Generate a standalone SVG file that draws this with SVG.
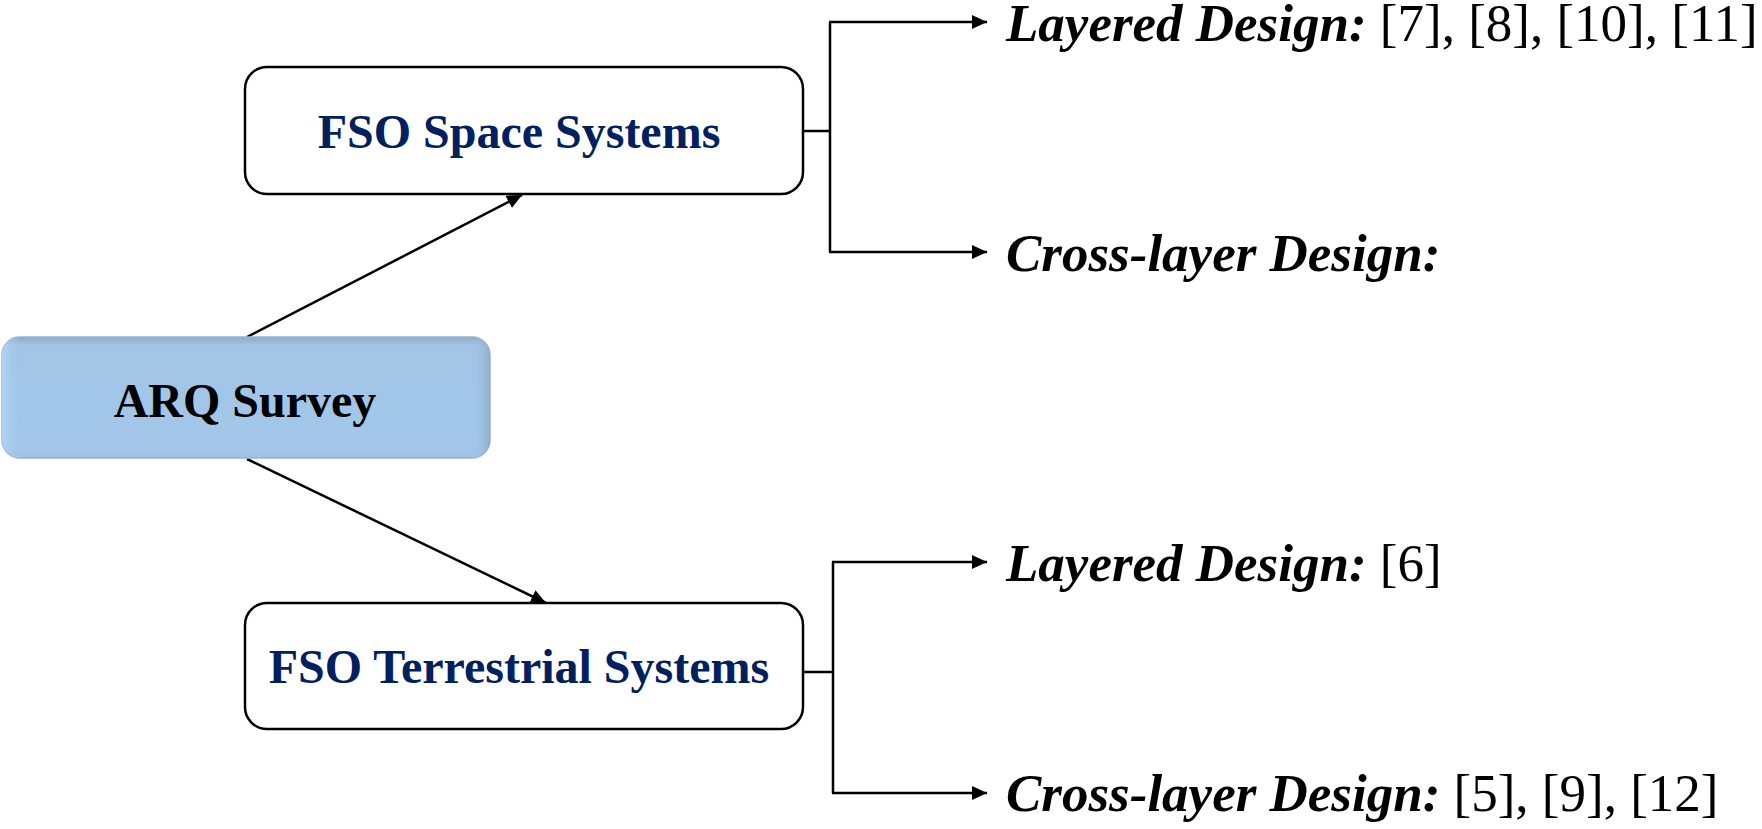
<svg xmlns="http://www.w3.org/2000/svg" width="1762" height="829" viewBox="0 0 1762 829">
  <style>
    .box { fill: #ffffff; stroke: #000000; stroke-width: 2.5; }
    .boxtxt { font-family: "Liberation Serif", "Times New Roman", serif; font-weight: bold; font-size: 48px; fill: #002060; text-anchor: middle; }
    .roottxt { font-family: "Liberation Serif", "Times New Roman", serif; font-weight: bold; font-size: 48px; fill: #000000; text-anchor: middle; }
    .leaf { font-family: "Liberation Serif", "Times New Roman", serif; font-size: 53px; fill: #000000; }
    .leaf .lbl { font-weight: bold; font-style: italic; }
    .wire { fill: none; stroke: #000000; stroke-width: 2.5; }
  </style>
  <defs>
    <marker id="arrow" markerUnits="userSpaceOnUse" markerWidth="16" markerHeight="15" refX="15" refY="7" orient="auto">
      <path d="M0,0 L15,7 L0,14 Z" fill="#000000"/>
    </marker>
    <linearGradient id="rootFill" x1="0" y1="0" x2="0" y2="1">
      <stop offset="0" stop-color="#8ea8c2"/>
      <stop offset="0.07" stop-color="#a2c5e6"/>
      <stop offset="0.9" stop-color="#a3c7e9"/>
      <stop offset="1" stop-color="#9fc3e6"/>
    </linearGradient>
    <linearGradient id="rootEdge" x1="0" y1="0" x2="1" y2="0">
      <stop offset="0" stop-color="#b3d6f6" stop-opacity="0.9"/>
      <stop offset="0.04" stop-color="#a3c7e9" stop-opacity="0"/>
      <stop offset="0.96" stop-color="#a3c7e9" stop-opacity="0"/>
      <stop offset="1" stop-color="#8fabc6" stop-opacity="0.9"/>
    </linearGradient>
  </defs>

  <rect width="1762" height="829" fill="#ffffff"/>

  <!-- connectors -->
  <g id="connectors">
    <line class="wire" x1="247" y1="337" x2="522" y2="195" marker-end="url(#arrow)"/>
    <line class="wire" x1="247" y1="459" x2="546" y2="603" marker-end="url(#arrow)"/>

    <path class="wire" d="M803,131 H830 M830,22 V252"/>
    <line class="wire" x1="829" y1="22" x2="987" y2="22" marker-end="url(#arrow)"/>
    <line class="wire" x1="829" y1="252" x2="987" y2="252" marker-end="url(#arrow)"/>

    <path class="wire" d="M803,672 H833 M833,562 V793"/>
    <line class="wire" x1="832" y1="562" x2="987" y2="562" marker-end="url(#arrow)"/>
    <line class="wire" x1="832" y1="793" x2="987" y2="793" marker-end="url(#arrow)"/>
  </g>

  <!-- root node -->
  <g id="arq-survey">
    <rect x="2" y="337" width="488" height="121" rx="18" fill="url(#rootFill)" stroke="#9ab3cb" stroke-width="1.5"/>
    <rect x="2" y="337" width="488" height="121" rx="18" fill="url(#rootEdge)"/>
    <text class="roottxt" x="245" y="417">ARQ Survey</text>
  </g>

  <!-- system nodes -->
  <g id="fso-space">
    <rect class="box" x="245" y="67" width="558" height="127" rx="22"/>
    <text class="boxtxt" x="519" y="148">FSO Space Systems</text>
  </g>
  <g id="fso-terrestrial">
    <rect class="box" x="245" y="603" width="558" height="126" rx="22"/>
    <text class="boxtxt" x="519" y="683">FSO Terrestrial Systems</text>
  </g>

  <!-- design categories -->
  <g id="space-layered">
    <text class="leaf" x="1006" y="41"><tspan class="lbl">Layered Design:</tspan> [7], [8], [10], [11]</text>
  </g>
  <g id="space-cross">
    <text class="leaf" x="1006" y="271"><tspan class="lbl">Cross-layer Design:</tspan></text>
  </g>
  <g id="terr-layered">
    <text class="leaf" x="1006" y="581"><tspan class="lbl">Layered Design:</tspan> [6]</text>
  </g>
  <g id="terr-cross">
    <text class="leaf" x="1006" y="811"><tspan class="lbl">Cross-layer Design:</tspan> [5], [9], [12]</text>
  </g>
</svg>
